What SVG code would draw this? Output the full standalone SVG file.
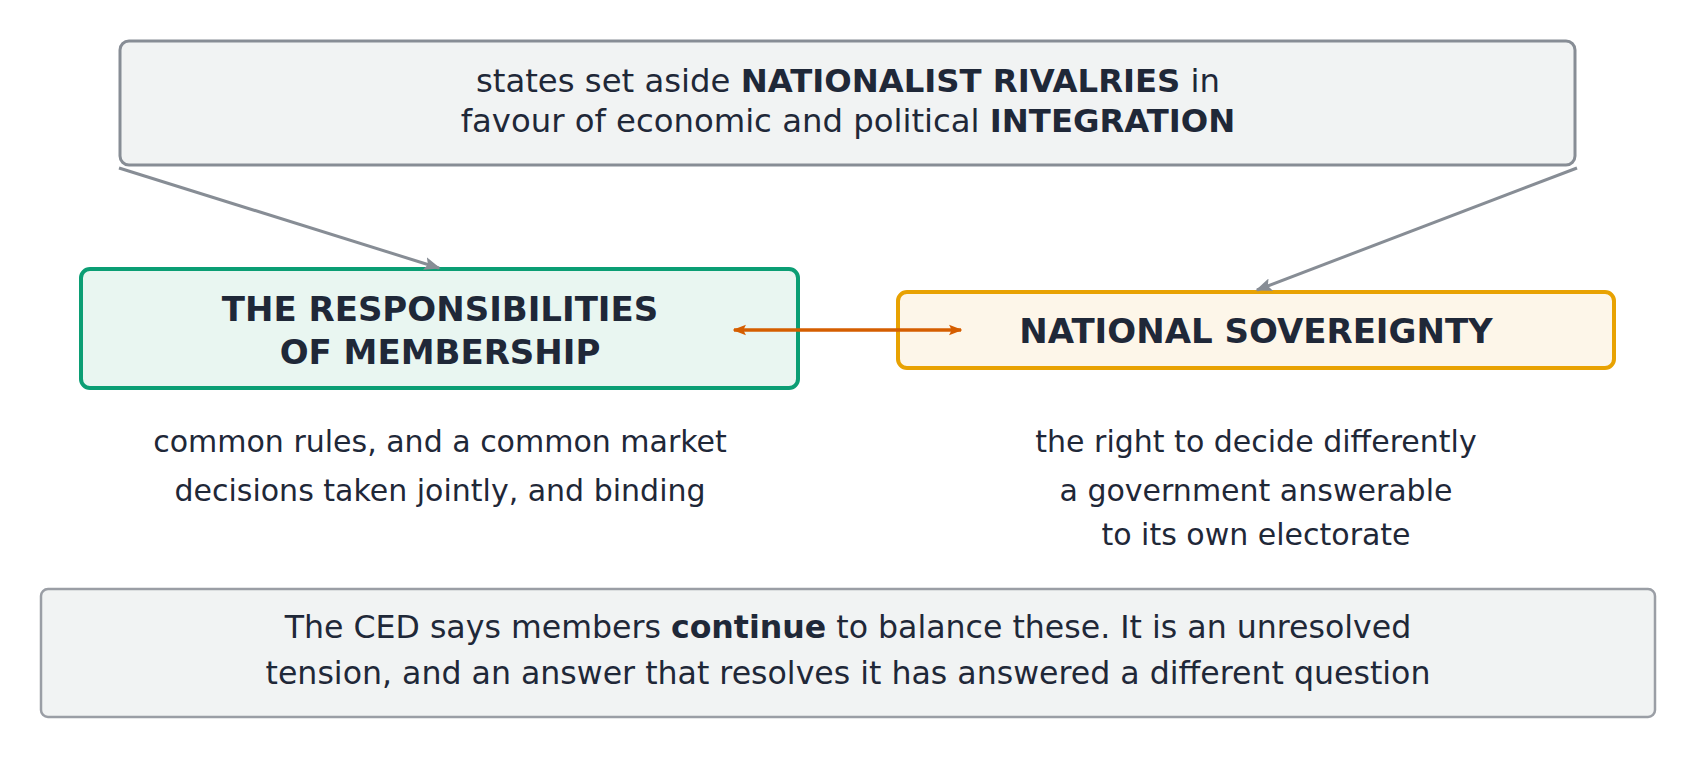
<svg xmlns="http://www.w3.org/2000/svg" width="1696" height="759" viewBox="0 0 1696 759">
<style>
text{font-family:"DejaVu Sans","Liberation Sans",sans-serif;fill:#1f2838;text-anchor:middle}
.b{font-weight:bold}
.top{font-size:32.3px}
.hd{font-size:34px;font-weight:bold}
.sub{font-size:30px}
.bot{font-size:31.6px}
.gray{fill:#f1f3f3;stroke:#878d95;stroke-width:3}
.conn{stroke:#878d95;stroke-width:3;fill:none}
</style>
<defs>
<marker id="ag" viewBox="0 0 10 10" refX="9" refY="5" markerWidth="5.5" markerHeight="5.5" orient="auto" markerUnits="strokeWidth">
<path d="M0,1 L10,5 L0,9 L2,5 Z" fill="#878d95"/>
</marker>
<marker id="ao" viewBox="0 0 10 10" refX="9" refY="5" markerWidth="3.8" markerHeight="3.8" orient="auto-start-reverse" markerUnits="strokeWidth">
<path d="M0,1 L10,5 L0,9 L2,5 Z" fill="#d55e00"/>
</marker>
</defs>
<g id="premise">
<rect class="gray" x="120" y="41" width="1455" height="124" rx="9"/>
<text class="top" x="848" y="92">states set aside <tspan class="b">NATIONALIST RIVALRIES</tspan> in</text>
<text class="top" x="848" y="132">favour of economic and political <tspan class="b">INTEGRATION</tspan></text>
</g>
<g id="membership">
<rect x="81" y="269" width="717" height="119" rx="9" fill="#e9f6f1" stroke="#0b9e74" stroke-width="4"/>
<text class="hd" x="440" y="321">THE RESPONSIBILITIES</text>
<text class="hd" x="440" y="364">OF MEMBERSHIP</text>
</g>
<g id="sovereignty">
<rect x="898" y="292" width="716" height="76" rx="9" fill="#fdf6e9" stroke="#e8a202" stroke-width="4"/>
<text class="hd" x="1256" y="343">NATIONAL SOVEREIGNTY</text>
</g>
<g id="membership-notes">
<text class="sub" x="440" y="452">common rules, and a common market</text>
<text class="sub" x="440" y="501">decisions taken jointly, and binding</text>
</g>
<g id="sovereignty-notes">
<text class="sub" x="1256" y="452">the right to decide differently</text>
<text class="sub" x="1256" y="501">a government answerable</text>
<text class="sub" x="1256" y="545">to its own electorate</text>
</g>
<g id="conclusion">
<rect x="41" y="589" width="1614" height="128" rx="7" fill="#f1f3f3" stroke="#9a9ea5" stroke-width="2.5"/>
<text class="bot" x="848" y="638">The CED says members <tspan class="b">continue</tspan> to balance these. It is an unresolved</text>
<text class="bot" x="848" y="684">tension, and an answer that resolves it has answered a different question</text>
</g>
<g id="connectors">
<line class="conn" x1="119" y1="168" x2="439" y2="268" marker-end="url(#ag)"/>
<line class="conn" x1="1577" y1="168" x2="1257" y2="290" marker-end="url(#ag)"/>
<line x1="734" y1="330" x2="961" y2="330" stroke="#d55e00" stroke-width="3.5" marker-start="url(#ao)" marker-end="url(#ao)"/>
</g>
</svg>
